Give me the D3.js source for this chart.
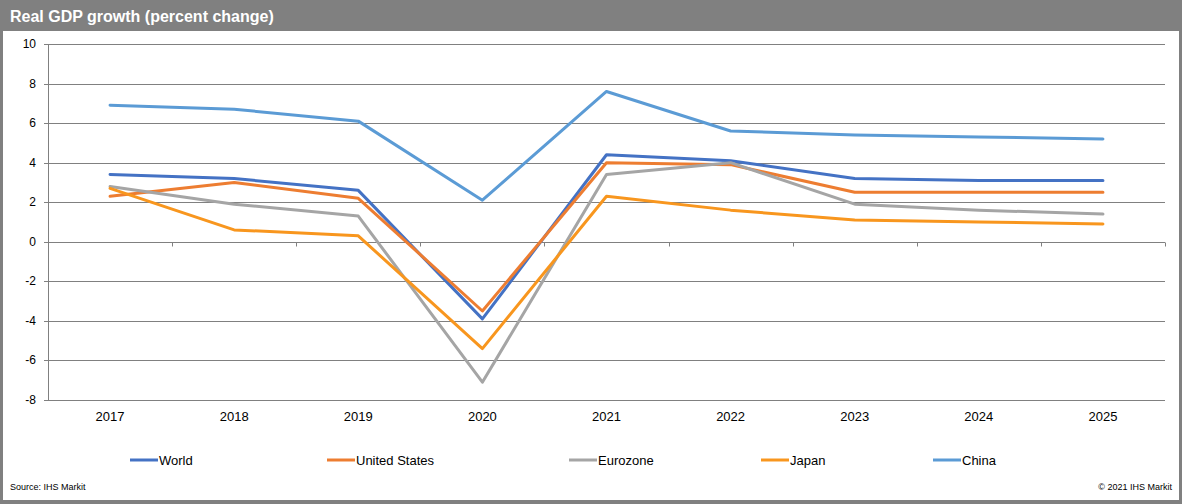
<!DOCTYPE html>
<html>
<head>
<meta charset="utf-8">
<script src="https://cdn.jsdelivr.net/npm/d3@7"></script>
<style>
  body { margin: 0; background: #fff; }
  svg { display: block; font-family: "Liberation Sans", Arial, sans-serif; }
</style>
</head>
<body>
<div id="chart"></div>
<script>
// data
var years = ["2017", "2018", "2019", "2020", "2021", "2022", "2023", "2024", "2025"];
var world = [3.4, 3.2, 2.6, -3.9, 4.4, 4.1, 3.2, 3.1, 3.1];
var unitedStates = [2.3, 3.0, 2.2, -3.5, 4.0, 3.9, 2.5, 2.5, 2.5];
var eurozone = [2.8, 1.9, 1.3, -7.1, 3.4, 4.0, 1.9, 1.6, 1.4];
var japan = [2.7, 0.6, 0.3, -5.4, 2.3, 1.6, 1.1, 1.0, 0.9];
var china = [6.9, 6.7, 6.1, 2.1, 7.6, 5.6, 5.4, 5.3, 5.2];
var yTicks = [10, 8, 6, 4, 2, 0, -2, -4, -6, -8];

var series = [
  { name: "World", values: world, color: "#4472C4" },
  { name: "United States", values: unitedStates, color: "#ED7D31" },
  { name: "Eurozone", values: eurozone, color: "#A5A5A5" },
  { name: "Japan", values: japan, color: "#F8961E" },
  { name: "China", values: china, color: "#5B9BD5" }
];

var W = 1182, H = 504;
var svg = d3.select("#chart").append("svg")
    .attr("width", W)
    .attr("height", H);

// frame + title bar
svg.append("rect").attr("x", 0).attr("y", 0).attr("width", W).attr("height", H).attr("fill", "#808080");
svg.append("rect").attr("x", 3).attr("y", 31).attr("width", W - 6).attr("height", H - 35).attr("fill", "#fff");
svg.append("text")
    .attr("x", 10).attr("y", 22)
    .attr("fill", "#fff")
    .style("font-size", "16px")
    .style("font-weight", "bold")
    .text("Real GDP growth (percent change)");

var margin = {left: 48, right: 1165, top: 44, bottom: 400};

var xScale = d3.scaleBand()
    .domain(years)
    .range([margin.left, margin.right]);

var yScale = d3.scaleLinear()
    .domain([-8, 10])
    .range([margin.bottom, margin.top]);

// gridlines
svg.append("g")
  .selectAll("line")
  .data(yTicks)
  .enter()
  .append("line")
    .attr("x1", margin.left - 4)
    .attr("x2", margin.right)
    .attr("y1", d => Math.round(yScale(d)) + 0.5)
    .attr("y2", d => Math.round(yScale(d)) + 0.5)
    .style("stroke", "#808080")
    .style("stroke-width", 1);

// y axis line
svg.append("line")
    .attr("x1", margin.left + 0.5).attr("x2", margin.left + 0.5)
    .attr("y1", margin.top).attr("y2", margin.bottom)
    .style("stroke", "#808080");

// y labels
svg.append("g")
  .selectAll("text")
  .data(yTicks)
  .enter()
  .append("text")
    .attr("x", 36)
    .attr("y", d => yScale(d) + 4)
    .attr("text-anchor", "end")
    .style("font-size", "12px")
    .attr("fill", "#000")
    .text(d => d);

// x ticks on the zero line
var y0 = Math.round(yScale(0)) + 0.5;
var bounds = years.map(d => xScale(d)).concat([margin.right]);
svg.append("g")
  .selectAll("line")
  .data(bounds)
  .enter()
  .append("line")
    .attr("x1", d => Math.round(d) + 0.5)
    .attr("x2", d => Math.round(d) + 0.5)
    .attr("y1", y0)
    .attr("y2", y0 + 4)
    .style("stroke", "#808080");

// x labels
svg.append("g")
  .selectAll("text")
  .data(years)
  .enter()
  .append("text")
    .attr("x", d => xScale(d) + xScale.bandwidth() / 2)
    .attr("y", 421)
    .attr("text-anchor", "middle")
    .style("font-size", "13px")
    .text(d => d);

// lines
var line = d3.line()
    .x((d, i) => xScale(years[i]) + xScale.bandwidth() / 2)
    .y(d => yScale(d));

svg.append("g")
  .selectAll("path")
  .data(series)
  .enter()
  .append("path")
    .attr("d", d => line(d.values))
    .attr("fill", "none")
    .style("stroke", d => d.color)
    .style("stroke-width", 3)
    .style("stroke-linejoin", "round")
    .style("stroke-linecap", "round");

// legend
var legendX = [130, 327, 569, 761, 933];
var leg = svg.append("g")
  .selectAll("g")
  .data(series)
  .enter()
  .append("g")
    .attr("transform", (d, i) => "translate(" + legendX[i] + ",460)");
leg.append("line")
    .attr("x1", 0).attr("x2", 28)
    .attr("y1", 0).attr("y2", 0)
    .style("stroke", d => d.color)
    .style("stroke-width", 3);
leg.append("text")
    .attr("x", 29)
    .attr("y", 5)
    .style("font-size", "13px")
    .text(d => d.name);

// footer
svg.append("text")
    .attr("x", 10).attr("y", 490)
    .style("font-size", "9px")
    .text("Source: IHS Markit");
svg.append("text")
    .attr("x", 1172).attr("y", 490)
    .attr("text-anchor", "end")
    .style("font-size", "9px")
    .text("\u00A9 2021  IHS Markit");
</script>
</body>
</html>
